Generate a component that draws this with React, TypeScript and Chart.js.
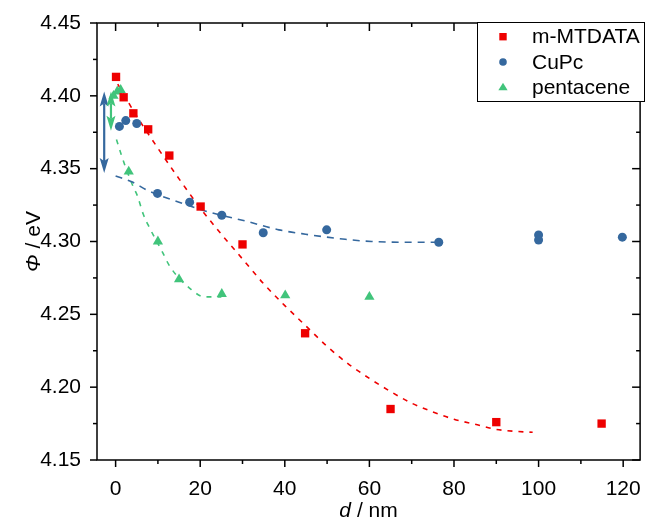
import React, { useEffect, useRef } from "react";
import { Chart, registerables } from "chart.js";
Chart.register(...registerables);

const FONT = "'Liberation Sans', Arial, Helvetica, sans-serif";
const FS = 21;

const seriesNames = ["m-MTDATA", "CuPc", "pentacene"];
const seriesColors = ["#ee0000", "#35689e", "#41c47b"];

// m-MTDATA
const mtdataX = [0.1, 1.9, 4.2, 7.7, 12.7, 20.1, 30, 44.8, 65, 90, 114.9];
const mtdataY = [4.413, 4.399, 4.388, 4.377, 4.359, 4.324, 4.298, 4.237, 4.185, 4.176, 4.175];
// CuPc
const cupcX = [0.9, 2.4, 5.0, 9.9, 17.5, 25.1, 34.9, 49.9, 76.4, 100, 100, 119.8];
const cupcY = [4.379, 4.383, 4.381, 4.333, 4.327, 4.318, 4.306, 4.308, 4.2995, 4.3045, 4.301, 4.303];
// pentacene
const pentX = [-0.5, 0.4, 1.2, 3.1, 10, 15, 25.1, 40.1, 60];
const pentY = [4.4, 4.403, 4.404, 4.348, 4.3, 4.274, 4.264, 4.263, 4.262];

// dashed fit curves
const mtdataFitX = [0.5, 5, 10, 15, 20, 25, 30, 35, 40, 45, 50, 55, 60, 65, 70, 75, 80, 85, 90, 95, 98.6];
const mtdataFitY = [4.408, 4.386, 4.364, 4.343, 4.323, 4.305, 4.288, 4.271, 4.256, 4.242, 4.228, 4.216, 4.206, 4.197, 4.189, 4.183, 4.178, 4.1745, 4.171, 4.1696, 4.169];
const cupcFitX = [0, 3.8, 7.6, 15, 20, 25, 30.8, 38.6, 44.9, 54.3, 60.5, 68, 76];
const cupcFitY = [4.345, 4.341, 4.335, 4.327, 4.322, 4.318, 4.314, 4.308, 4.305, 4.3015, 4.3, 4.2995, 4.2995];
const pentFitX = [0.2, 1.4, 2.35, 4.1, 5.2, 6.5, 8.1, 11.2, 12.8, 17.9, 21, 25];
const pentFitY = [4.37, 4.359, 4.351, 4.338, 4.331, 4.319, 4.309, 4.292, 4.283, 4.267, 4.262, 4.262];

// double arrows: [x, yTop, yBottom]
const arrowCupc = [-2.7, 4.403, 4.347];
const arrowPent = [-1.1, 4.403, 4.376];

const xMin = -4.4;
const xMax = 124;
const yMin = 4.15;
const yMax = 4.45;
const xMajorTicks = [0, 20, 40, 60, 80, 100, 120];
const xMinorTicks = [10, 30, 50, 70, 90, 110];
const yMajorTicks = [4.15, 4.2, 4.25, 4.3, 4.35, 4.4, 4.45];
const yMinorTicks = [4.175, 4.225, 4.275, 4.325, 4.375, 4.425];

const toPts = (xs: number[], ys: number[]) => xs.map((x, i) => ({ x, y: ys[i] }));

function drawMarker(ctx: CanvasRenderingContext2D, style: string, x: number, y: number, r: number, color: string) {
  ctx.fillStyle = color;
  ctx.beginPath();
  if (style === "rect") {
    ctx.rect(x - r, y - r, 2 * r, 2 * r);
  } else if (style === "circle") {
    ctx.arc(x, y, r, 0, Math.PI * 2);
  } else {
    const h = r * 1.7;
    ctx.moveTo(x, y - h * 0.6);
    ctx.lineTo(x - r * 1.05, y + h * 0.4);
    ctx.lineTo(x + r * 1.05, y + h * 0.4);
    ctx.closePath();
  }
  ctx.fill();
}

function drawDoubleArrow(ctx: CanvasRenderingContext2D, x: number, y1: number, y2: number, color: string) {
  const hl = 15, hw = 4.5;
  ctx.strokeStyle = color;
  ctx.fillStyle = color;
  ctx.lineWidth = 2.2;
  ctx.beginPath();
  ctx.moveTo(x, y1 + hl - 3);
  ctx.lineTo(x, y2 - hl + 3);
  ctx.stroke();
  ctx.beginPath();
  ctx.moveTo(x, y1);
  ctx.lineTo(x - hw, y1 + hl);
  ctx.lineTo(x, y1 + hl - 3);
  ctx.lineTo(x + hw, y1 + hl);
  ctx.closePath();
  ctx.fill();
  ctx.beginPath();
  ctx.moveTo(x, y2);
  ctx.lineTo(x - hw, y2 - hl);
  ctx.lineTo(x, y2 - hl + 3);
  ctx.lineTo(x + hw, y2 - hl);
  ctx.closePath();
  ctx.fill();
}

const decorPlugin = {
  id: "decor",
  beforeDatasetsDraw(chart: any) {
    const { ctx, scales } = chart;
    const xs = scales.x, ys = scales.y;
    ctx.save();
    const arrows: [number[], string][] = [[arrowCupc, seriesColors[1]], [arrowPent, seriesColors[2]]];
    arrows.forEach(([a, c]) => {
      drawDoubleArrow(ctx, xs.getPixelForValue(a[0]), ys.getPixelForValue(a[1]), ys.getPixelForValue(a[2]), c);
    });
    ctx.restore();
  },
  afterDraw(chart: any) {
    const { ctx, chartArea: a, scales } = chart;
    const xs = scales.x, ys = scales.y;
    ctx.save();
    ctx.strokeStyle = "#000";
    ctx.lineWidth = 1.5;
    const line = (x1: number, y1: number, x2: number, y2: number) => {
      ctx.beginPath();
      ctx.moveTo(x1, y1);
      ctx.lineTo(x2, y2);
      ctx.stroke();
    };
    xMajorTicks.forEach((v) => {
      const p = xs.getPixelForValue(v);
      line(p, a.bottom, p, a.bottom + 7);
      line(p, a.top, p, a.top + 8);
    });
    xMinorTicks.forEach((v) => {
      const p = xs.getPixelForValue(v);
      line(p, a.bottom, p, a.bottom + 4);
      line(p, a.top, p, a.top + 4);
    });
    yMajorTicks.forEach((v) => {
      const p = ys.getPixelForValue(v);
      line(a.left - 7, p, a.left, p);
      line(a.right, p, a.right - 8, p);
    });
    yMinorTicks.forEach((v) => {
      const p = ys.getPixelForValue(v);
      line(a.left - 4, p, a.left, p);
      line(a.right, p, a.right - 4, p);
    });
    ctx.strokeRect(a.left, a.top, a.right - a.left, a.bottom - a.top);

    // axis titles
    ctx.fillStyle = "#000";
    ctx.textBaseline = "alphabetic";
    ctx.textAlign = "left";
    const it = `italic ${FS}px ${FONT}`;
    const nm = `${FS}px ${FONT}`;
    ctx.font = it;
    const wd = ctx.measureText("d").width;
    ctx.font = nm;
    const wr = ctx.measureText(" / nm").width;
    const cx = (a.left + a.right) / 2;
    const sx = cx - (wd + wr) / 2;
    ctx.font = it;
    ctx.fillText("d", sx, 517);
    ctx.font = nm;
    ctx.fillText(" / nm", sx + wd, 517);

    ctx.save();
    const cy = (a.top + a.bottom) / 2;
    ctx.translate(40, cy);
    ctx.rotate(-Math.PI / 2);
    ctx.font = it;
    const wp = ctx.measureText("Φ").width;
    ctx.font = nm;
    const we = ctx.measureText(" / eV").width;
    const s2 = -(wp + we) / 2;
    ctx.font = it;
    ctx.fillText("Φ", s2, 0);
    ctx.font = nm;
    ctx.fillText(" / eV", s2 + wp, 0);
    ctx.restore();

    // legend
    const lx = 477.5, ly = 22.5, lw = 167, lh = 79;
    ctx.fillStyle = "#fff";
    ctx.fillRect(lx, ly, lw, lh);
    ctx.strokeStyle = "#000";
    ctx.lineWidth = 1;
    ctx.strokeRect(lx, ly, lw, lh);
    const styles = ["rect", "circle", "triangle"];
    const rs = [3.7, 3.8, 4.4];
    ctx.font = nm;
    ctx.textBaseline = "middle";
    seriesNames.forEach((name, i) => {
      const yy = 36.7 + i * 25.3;
      drawMarker(ctx, styles[i], 503, yy, rs[i], seriesColors[i]);
      ctx.fillStyle = "#000";
      ctx.fillText(name, 532, yy + 1);
    });
    ctx.restore();
  },
};

export default function App() {
  const ref = useRef<HTMLCanvasElement | null>(null);
  useEffect(() => {
    if (!ref.current) return;
    const fitDs = (xs: number[], ys: number[], color: string, dash: number[]) => ({
      data: toPts(xs, ys),
      showLine: true,
      borderColor: color,
      borderWidth: 1.6,
      borderDash: dash,
      pointRadius: 0,
      pointHoverRadius: 0,
      cubicInterpolationMode: "monotone" as const,
      fill: false,
    });
    const chart = new Chart(ref.current, {
      type: "scatter",
      data: {
        datasets: [
          {
            label: seriesNames[0],
            data: toPts(mtdataX, mtdataY),
            pointStyle: "rect",
            pointRadius: 5.9,
            backgroundColor: seriesColors[0],
            borderColor: seriesColors[0],
            borderWidth: 0,
          },
          {
            label: seriesNames[1],
            data: toPts(cupcX, cupcY),
            pointStyle: "circle",
            pointRadius: 4.5,
            backgroundColor: seriesColors[1],
            borderColor: seriesColors[1],
            borderWidth: 0,
          },
          {
            label: seriesNames[2],
            data: toPts(pentX, pentY),
            pointStyle: "triangle",
            pointRadius: 5.9,
            backgroundColor: seriesColors[2],
            borderColor: seriesColors[2],
            borderWidth: 0,
          },
          fitDs(mtdataFitX, mtdataFitY, seriesColors[0], [5, 6]),
          fitDs(cupcFitX, cupcFitY, seriesColors[1], [7, 6]),
          fitDs(pentFitX, pentFitY, seriesColors[2], [5, 6]),
        ] as any,
      },
      options: {
        animation: false,
        responsive: false,
        devicePixelRatio: 1,
        layout: { padding: { top: 23, right: 3, left: 0, bottom: 0 } },
        plugins: { legend: { display: false }, tooltip: { enabled: false } },
        scales: {
          x: {
            type: "linear",
            min: xMin,
            max: xMax,
            grid: { display: false },
            border: { display: false },
            afterBuildTicks: (s: any) => {
              s.ticks = xMajorTicks.map((v) => ({ value: v }));
            },
            afterFit: (s: any) => {
              s.height = 61;
              s.paddingLeft = 0;
              s.paddingRight = 0;
            },
            ticks: {
              padding: 9,
              color: "#000",
              maxRotation: 0,
              autoSkip: false,
              font: { family: FONT, size: FS },
              callback: (v: any) => String(v),
            },
          },
          y: {
            type: "linear",
            min: yMin,
            max: yMax,
            grid: { display: false },
            border: { display: false },
            afterBuildTicks: (s: any) => {
              s.ticks = yMajorTicks.map((v) => ({ value: v }));
            },
            afterFit: (s: any) => {
              s.width = 97;
              s.paddingTop = 0;
              s.paddingBottom = 0;
            },
            ticks: {
              padding: 8,
              color: "#000",
              autoSkip: false,
              font: { family: FONT, size: FS },
              callback: (v: any) => Number(v).toFixed(2),
            },
          },
        },
      },
      plugins: [decorPlugin as any],
    });
    return () => chart.destroy();
  }, []);
  return (
    <div style={{ position: "absolute", left: 0, top: 0, width: 646, height: 521, background: "#fff" }}>
      <canvas ref={ref} width={646} height={521} style={{ display: "block" }} />
    </div>
  );
}
